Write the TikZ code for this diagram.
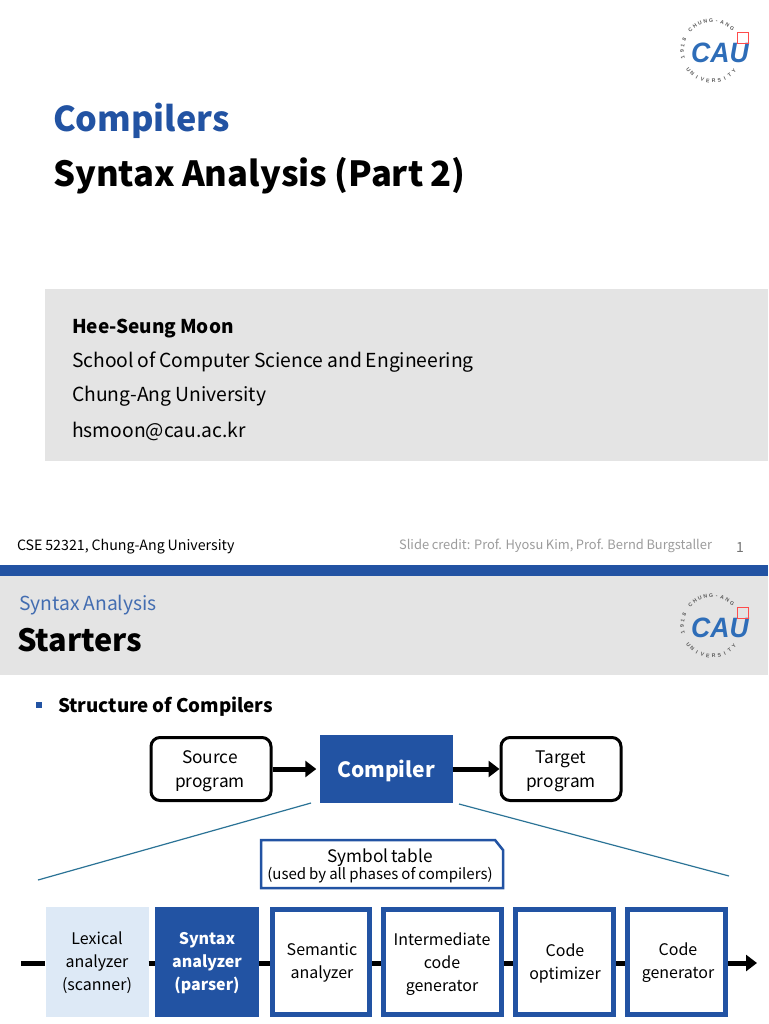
\documentclass[tikz,border=0pt]{standalone}
\usepackage{fontspec}
\setmainfont[WordSpace=0.9]{Noto Sans CJK KR}
\newfontfamily\logofont{Liberation Sans}
\usetikzlibrary{arrows.meta}
\definecolor{caublue}{HTML}{2253A3}
\definecolor{caulight}{HTML}{DDE9F6}
\definecolor{caugray}{HTML}{E4E4E4}
\definecolor{cautext}{HTML}{9C9C9C}
\definecolor{cauteal}{HTML}{2B7396}
\definecolor{caulogo}{HTML}{2E6DB8}
\newcommand{\fsize}[2]{\fontsize{#1}{#2}\selectfont}
\tikzset{
    txt/.style={anchor=base west,inner sep=0pt,outer sep=0pt,text=black},
    srcbox/.style={draw=black,line width=3pt,rounded corners=9pt,fill=white,minimum width=120pt,minimum height=63pt,inner sep=0pt,outer sep=1.5pt},
    srctxt/.style={align=center,inner sep=0pt,font=\fsize{17.3}{24}},
    phase/.style={draw=caublue,line width=5pt,fill=white,minimum height=105pt,inner sep=0pt,outer sep=2.5pt},
    solid box/.style={minimum height=110pt,inner sep=0pt},
    phasetxt/.style={align=center,inner sep=0pt,font=\fsize{16}{23}},
    flow/.style={line width=5pt,black},
    arrowtip/.style={-{Triangle[length=11pt,width=16pt]}},
    zoomline/.style={cauteal,line width=1.2pt},
    ringtxt/.style={text=black!65,font=\logofont\bfseries\fontsize{5.2}{6}\selectfont,inner sep=0pt}
}
\newcommand{\caulogomark}[2]{
    \begin{scope}[shift={(#1,#2)},x=1pt,y=1pt]
        \foreach \a/\l in {136/C,125/H,114/U,103/N,92/G,81/-,70/A,59/N,48/G,193/1,181/9,169/1,157/8}
            \node[ringtxt,rotate=\a-90] at (\a:30pt) {\l};
        \foreach \a/\l in {218/U,229/N,240/I,251/V,262/E,273/R,284/S,295/I,306/T,317/Y}
            \node[ringtxt,rotate=\a+90] at (\a:30pt) {\l};
        \node[text=caulogo,font=\logofont\bfseries\itshape\fontsize{28}{28}\selectfont,inner sep=0pt,xscale=0.95] at (8,-1.5) {CAU};
        \draw[red!70,line width=0.9pt] (25,19) rectangle (36,8);
    \end{scope}
}
\begin{document}
\begin{tikzpicture}[x=1pt,y=-1pt]
    \useasboundingbox (0,0) rectangle (768,1024);
    \fill[white] (0,0) rectangle (768,1024);

    \fill[caugray] (45,289) rectangle (768,461);
    \fill[caublue] (0,565) rectangle (768,576);
    \fill[caugray] (0,576) rectangle (768,675);
    \caulogomark{712}{51}
    \caulogomark{712}{626}

    \node[txt,font=\fsize{34.2}{40}\bfseries,text=caublue] (title) at (53,132) {Compilers};
    \node[txt,font=\fsize{34.6}{40}\bfseries] (subtitle) at (53,187) {Syntax Analysis (Part 2)};
    \node[txt,font=\fsize{19}{24}\bfseries] (name) at (72,333) {Hee-Seung Moon};
    \node[txt,font=\fsize{19.3}{24}] (school) at (72,367) {School of Computer Science and Engineering};
    \node[txt,font=\fsize{19.3}{24}] (univ) at (72,401) {Chung-Ang University};
    \node[txt,font=\fsize{19.3}{24}] (mail) at (72,437) {hsmoon@cau.ac.kr};
    \node[txt,font=\fsize{14.2}{16}] (course) at (17,550) {CSE 52321, Chung-Ang University};
    \node[txt,anchor=base east,font=\fsize{12.9}{16},text=cautext] (credit) at (712,549) {Slide credit: Prof. Hyosu Kim, Prof. Bernd Burgstaller};
    \node[txt,font=\fsize{14}{16},text=black!55] (page) at (736,552) {1};

    \node[txt,font=\fsize{19.3}{24},text=caublue!85] (section) at (19,610) {Syntax Analysis};
    \node[txt,font=\fsize{30.7}{36}\bfseries] (slide) at (17,651) {Starters};
    \node[fill=caublue,minimum size=6pt,inner sep=0pt] (bullet) at (39,705) {};
    \node[txt,font=\fsize{18.8}{24}\bfseries] (head) at (58,712) {Structure of Compilers};

    \node[srcbox] (source) at (211,769) {};
    \node[fill=caublue,minimum width=133pt,minimum height=68pt,inner sep=0pt] (compiler) at (386,769) {};
    \node[srcbox] (target) at (561,769) {};
    \node[srctxt] (sourcetxt) at (210,771) {Source\\program};
    \node[inner sep=0pt,text=white,font=\fsize{21}{28}\bfseries] (compilertxt) at (386,771) {Compiler};
    \node[srctxt] (targettxt) at (561,771) {Target\\program};
    \draw[flow,arrowtip,shorten >=3pt] (source) -- (compiler);
    \draw[flow,arrowtip] (compiler) -- (target);

    \coordinate (zl1) at (311,803);
    \coordinate (zl2) at (38,880);
    \coordinate (zr1) at (459,804);
    \coordinate (zr2) at (729,876);
    \draw[zoomline] (zl1) -- (zl2);
    \draw[zoomline] (zr1) -- (zr2);

    \node[minimum width=242pt,minimum height=48pt,inner sep=0pt,outer sep=0pt] (symtab) at (382,864) {};
    \draw[caublue,line width=2.5pt,fill=white] (symtab.south west) |- ([xshift=-8pt]symtab.north east)
        -- ([yshift=-10pt]symtab.north east) -- (symtab.south east) -- cycle;
    \node[align=center,inner sep=0pt] (symtxt) at (380,866)
          {{\fsize{17.2}{20}Symbol table}\\[-1pt]{\fsize{15}{18}(used by all phases of compilers)}};

    \node[solid box,fill=caulight,minimum width=103pt] (lexical) at (97,962) {};
    \node[solid box,fill=caublue,minimum width=104pt] (syntax) at (207,962) {};
    \node[phase,minimum width=97pt] (semantic) at (321,962) {};
    \node[phase,minimum width=118pt] (inter) at (442,962) {};
    \node[phase,minimum width=98pt] (optim) at (564.5,962) {};
    \node[phase,minimum width=98pt] (gener) at (676.5,962) {};
    \node[phasetxt] (lexicaltxt) at (97,963) {Lexical\\analyzer\\(scanner)};
    \node[phasetxt,text=white,font=\fsize{16}{23}\bfseries] (syntaxtxt) at (207,963) {Syntax\\analyzer\\(parser)};
    \node[phasetxt] (semantictxt) at (322,963) {Semantic\\analyzer};
    \node[phasetxt] (intertxt) at (442,964) {Intermediate\\code\\generator};
    \node[phasetxt] (optimtxt) at (565,963) {Code\\optimizer};
    \node[phasetxt] (genertxt) at (678,963) {Code\\generator};

    \coordinate (flowin) at (21,963);
    \coordinate (flowout) at (757,963);
    \draw[flow] (flowin) -- (lexical.west |- flowin);
    \draw[flow] (lexical.east |- flowin) -- (syntax.west |- flowin);
    \draw[flow] (syntax.east |- flowin) -- (semantic.west |- flowin);
    \draw[flow] (semantic.east |- flowin) -- (inter.west |- flowin);
    \draw[flow] (inter.east |- flowin) -- (optim.west |- flowin);
    \draw[flow] (optim.east |- flowin) -- (gener.west |- flowin);
    \draw[flow,arrowtip] (gener.east |- flowin) -- (flowout);
\end{tikzpicture}
\end{document}
